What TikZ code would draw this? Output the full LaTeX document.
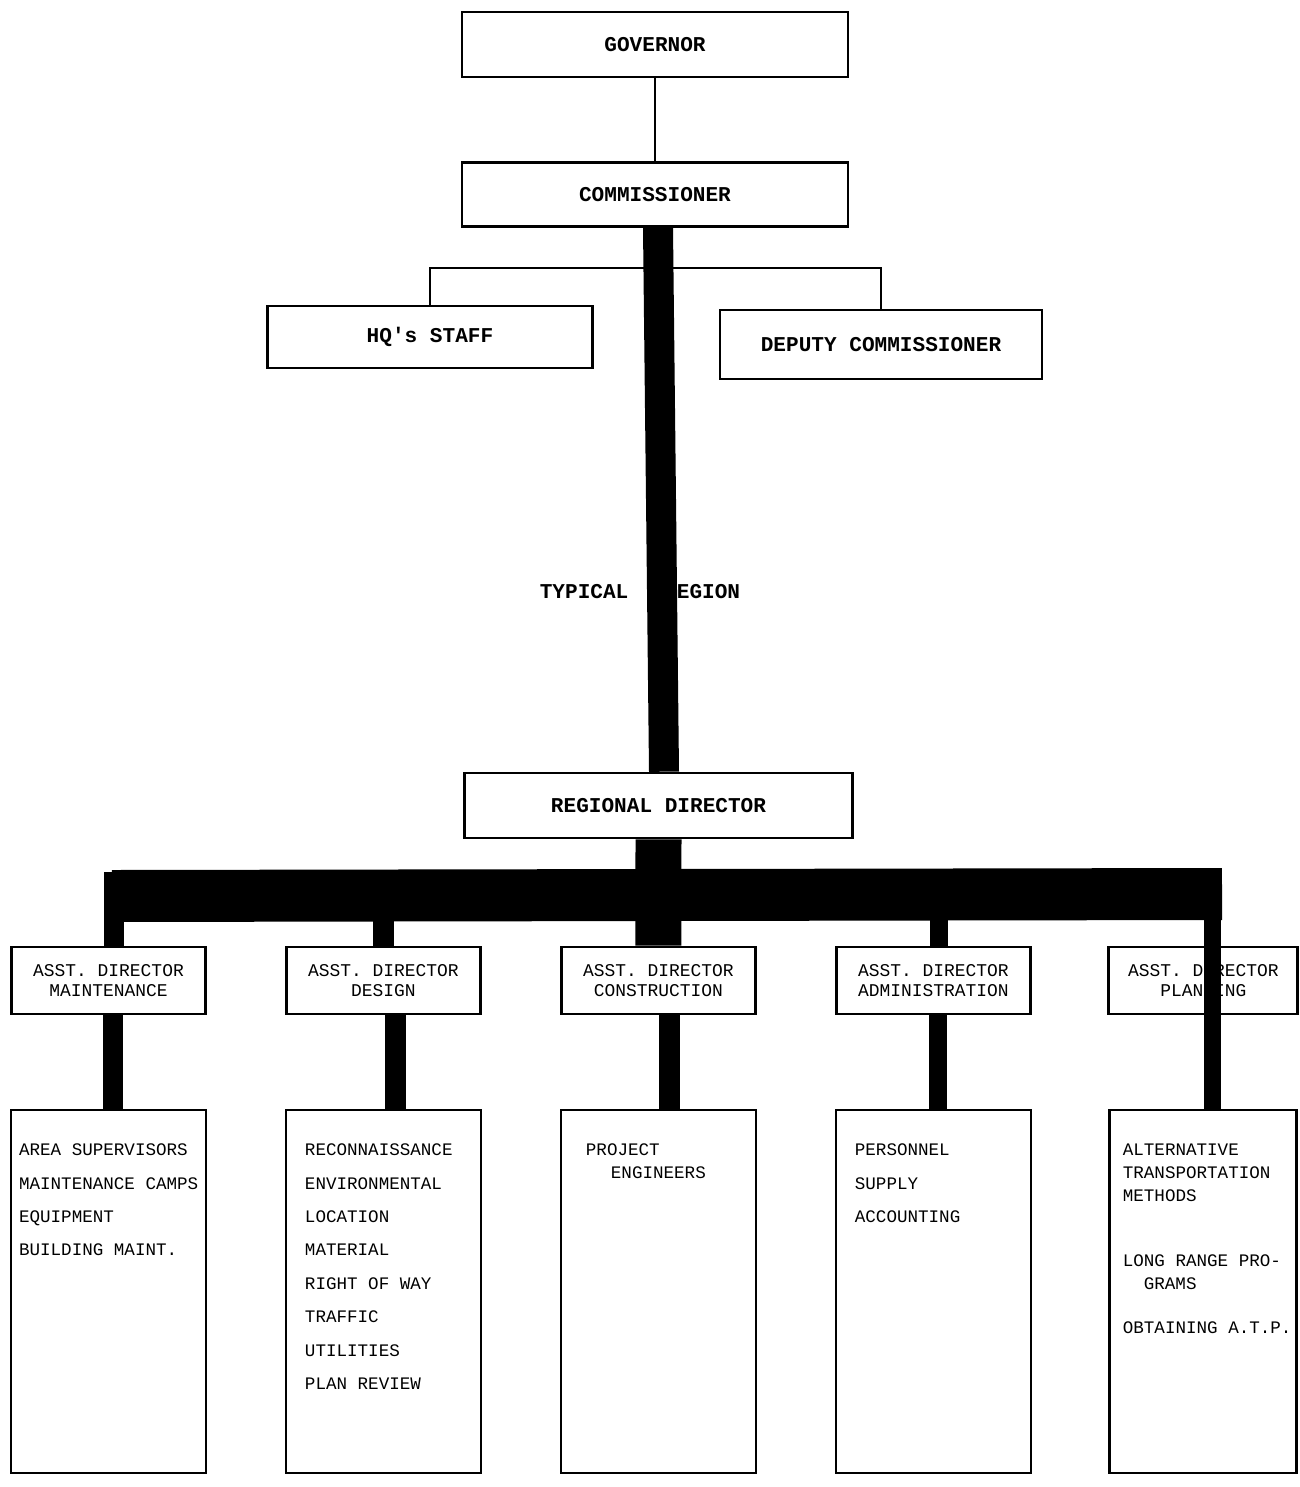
\documentclass[tikz,border=0pt]{standalone}
\usepackage{fontspec}
\usepackage{tikz}
\usetikzlibrary{positioning}
\newfontfamily\typer{Liberation Mono}

\tikzstyle{chiefnode} = [rectangle, draw, line width=1.5pt,
    minimum height=1.3cm, font=\typer\bfseries\fontsize{12}{14}\selectfont]
\tikzstyle{asstnode}  = [rectangle, draw, line width=1.5pt, align=center,
    minimum width=3.88cm, minimum height=1.34cm, font=\typer\fontsize{10.2}{11.4}\selectfont]
\tikzstyle{listnode}  = [rectangle, draw, line width=1.5pt,
    minimum width=3.9cm, minimum height=7.26cm]
\tikzstyle{duties}    = [anchor=north west, align=left, inner sep=0pt,
    font=\typer\fontsize{10}{19}\selectfont]
\tikzstyle{line}   = [draw, line width=1.2pt]
\tikzstyle{stroke} = [draw, line width=0.6cm]
\tikzstyle{bus}    = [draw, line width=1.04cm]
\tikzstyle{drop}   = [draw, line width=0.42cm]

\begin{document}
\begin{tikzpicture}[x=0.02cm, y=-0.02cm, on grid]
    \useasboundingbox (0,0) rectangle (1299,1487);
    % Place nodes

    \node [chiefnode, minimum width=7.72cm] (governor) at (655,44.5) {GOVERNOR};
    \node [chiefnode, minimum width=7.72cm, minimum height=1.27cm, below=3cm of governor] (commissioner) {COMMISSIONER};
    \node [chiefnode, minimum width=6.5cm, minimum height=1.24cm] (hqStaff) at (430,337) {HQ's STAFF};
    \node [chiefnode, minimum width=6.44cm, minimum height=1.38cm] (deputyComm) at (881,344.5) {DEPUTY COMMISSIONER};

    \node [font=\typer\bfseries\fontsize{12}{14}\selectfont] (typRegion) at (640,592) {TYPICAL\hspace{1.7em}REGION};
    \node [chiefnode, minimum width=7.76cm] (regDirector) at (658.5,805.5) {REGIONAL DIRECTOR};

    \node [asstnode] (asstMaint) at (108.5,980.5) {ASST. DIRECTOR\\MAINTENANCE};
    \node [asstnode, right=5.5cm of asstMaint]  (asstDesign) {ASST. DIRECTOR\\DESIGN};
    \node [asstnode, right=5.5cm of asstDesign] (asstConstr) {ASST. DIRECTOR\\CONSTRUCTION};
    \node [asstnode, right=5.5cm of asstConstr] (asstAdmin)  {ASST. DIRECTOR\\ADMINISTRATION};
    \node [asstnode, right=5.5cm of asstAdmin, xshift=-0.1cm, minimum width=3.78cm] (asstPlan) {ASST. DIRECTOR\\PLANNING};

    \node [listnode, below=6.22cm of asstMaint]  (listMaint)  {};
    \node [listnode, below=6.22cm of asstDesign] (listDesign) {};
    \node [listnode, below=6.22cm of asstConstr] (listConstr) {};
    \node [listnode, below=6.22cm of asstAdmin]  (listAdmin)  {};
    \node [listnode, below=6.22cm of asstPlan, minimum width=3.74cm] (listPlan) {};

    \node [duties] (dutiesMaint) at ([xshift=0.18cm, yshift=-0.7cm]listMaint.north west)
        {AREA SUPERVISORS\\MAINTENANCE CAMPS\\EQUIPMENT\\BUILDING MAINT.};
    \node [duties] (dutiesDesign) at ([xshift=0.4cm, yshift=-0.7cm]listDesign.north west)
        {RECONNAISSANCE\\ENVIRONMENTAL\\LOCATION\\MATERIAL\\RIGHT OF WAY\\TRAFFIC\\UTILITIES\\PLAN REVIEW};
    \node [duties, font=\typer\fontsize{10}{13}\selectfont] (dutiesConstr) at ([xshift=0.52cm, yshift=-0.7cm]listConstr.north west)
        {PROJECT\\\hspace*{0.5cm}ENGINEERS};
    \node [duties] (dutiesAdmin) at ([xshift=0.4cm, yshift=-0.7cm]listAdmin.north west)
        {PERSONNEL\\SUPPLY\\ACCOUNTING};
    \node [duties, font=\typer\fontsize{10}{13}\selectfont] (dutiesPlan) at ([xshift=0.28cm, yshift=-0.7cm]listPlan.north west)
        {ALTERNATIVE\\TRANSPORTATION\\METHODS\\[24pt]LONG RANGE PRO-\\\hspace*{0.42cm}GRAMS\\[12pt]OBTAINING A.T.P.};

    % Connectors
    \coordinate (fork) at (655,268);
    \coordinate (busLeft) at (112,896);
    \coordinate (busRight) at (1222,894);
    \coordinate (busTop) at (0,872);

    \path [line] (governor) -- (commissioner);
    \path [line] (hqStaff.north) |- (fork) -| (deputyComm.north);
    \path [stroke] ([xshift=0.06cm]commissioner.south) -- ([xshift=0.11cm]regDirector.north);
    \path [draw, line width=0.92cm] (regDirector.south) -- (asstConstr.north);
    \path [bus] (busLeft) -- (busRight);

    \path [drop] ([xshift=0.11cm]asstMaint.north) -- ([xshift=0.11cm]asstMaint.north |- busTop);
    \path [drop] (asstDesign.north) -- (asstDesign.north |- busTop);
    \path [drop, line width=0.36cm] ([xshift=0.11cm]asstAdmin.north) -- ([xshift=0.11cm]asstAdmin.north |- busTop);
    \path [drop, line width=0.34cm] ([xshift=0.19cm]listPlan.north) -- ([xshift=0.19cm]listPlan.north |- busTop);

    \path [drop] ([xshift=0.09cm]asstMaint.south) -- ([xshift=0.09cm]listMaint.north);
    \path [drop] ([xshift=0.25cm]asstDesign.south) -- ([xshift=0.25cm]listDesign.north);
    \path [drop] ([xshift=0.23cm]asstConstr.south) -- ([xshift=0.23cm]listConstr.north);
    \path [drop, line width=0.36cm] ([xshift=0.09cm]asstAdmin.south) -- ([xshift=0.09cm]listAdmin.north);
\end{tikzpicture}
\end{document}
